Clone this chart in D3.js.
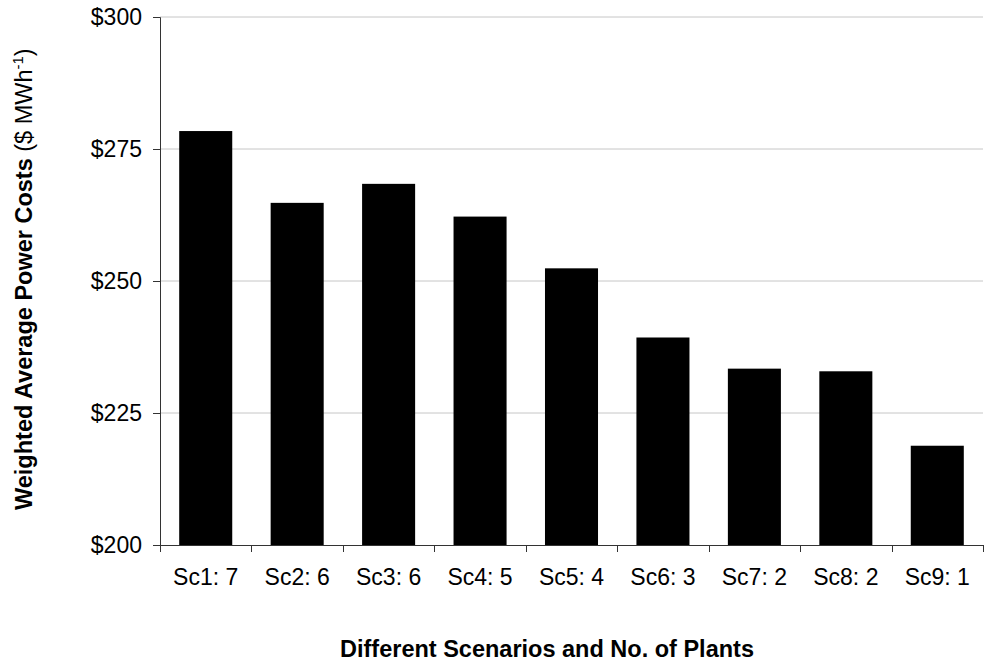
<!DOCTYPE html>
<html>
<head>
<meta charset="utf-8">
<script src="https://cdn.jsdelivr.net/npm/d3@7"></script>
<style>
  body { margin: 0; background: #fff; }
  svg text { font-family: "Liberation Sans", Arial, sans-serif; fill: #000; }
</style>
</head>
<body>
<div id="chart"></div>
<script>
// scenario labels and weighted average cost per scenario ($/MWh)
var scenarios = ["Sc1: 7", "Sc2: 6", "Sc3: 6", "Sc4: 5", "Sc5: 4", "Sc6: 3", "Sc7: 2", "Sc8: 2", "Sc9: 1"];
var costs = [278.4, 264.8, 268.4, 262.2, 252.4, 239.3, 233.4, 232.9, 218.8];
var yTicks = [200, 225, 250, 275, 300];

var width = 984, height = 666;
var margin = {left: 160, right: 1, top: 17, bottom: 121};

var svg = d3.select("#chart")
  .append("svg")
    .attr("width", width)
    .attr("height", height);

var x = d3.scaleBand()
    .domain(scenarios)
    .range([margin.left, width - margin.right])
    .paddingInner(0.42)
    .paddingOuter(0.21);

var y = d3.scaleLinear()
    .domain([200, 300])
    .range([height - margin.bottom, margin.top]);

// gridlines
svg.append("g")
  .selectAll("line")
  .data(yTicks.slice(1))
  .enter()
  .append("line")
    .attr("x1", margin.left)
    .attr("x2", width - margin.right)
    .attr("y1", function(d) { return y(d); })
    .attr("y2", function(d) { return y(d); })
    .style("stroke", "#c6c6c6")
    .style("stroke-width", 1);

// bars
svg.append("g")
  .selectAll("rect")
  .data(costs)
  .enter()
  .append("rect")
    .attr("x", function(d, i) { return x(scenarios[i]); })
    .attr("width", x.bandwidth())
    .attr("y", function(d) { return y(d); })
    .attr("height", function(d) { return y(200) - y(d); })
    .style("fill", "#000");

// y axis
var yAxis = svg.append("g")
    .attr("transform", "translate(" + margin.left + ",0)")
    .call(d3.axisLeft(y)
        .tickValues(yTicks)
        .tickSize(7)
        .tickPadding(11)
        .tickFormat(function(d) { return "$" + d; }));
yAxis.select(".domain").style("stroke", "#333");
yAxis.selectAll(".tick line").style("stroke", "#333");
yAxis.selectAll("text")
    .style("font-size", "23px")
    .style("font-family", "'Liberation Sans', Arial, sans-serif");

// x axis: labels from band scale, ticks at band boundaries
var xAxis = svg.append("g")
    .attr("transform", "translate(0," + y(200) + ")")
    .call(d3.axisBottom(x).tickSize(0).tickPadding(23.5));
xAxis.select(".domain").remove();
xAxis.selectAll("text")
    .style("font-size", "23px")
    .style("font-family", "'Liberation Sans', Arial, sans-serif");

var step = x.step();
var edges = scenarios.map(function(s) { return x(s) - step * x.paddingInner() / 2; });
edges.push(width - margin.right);

svg.append("line")
    .attr("x1", margin.left - 7)
    .attr("x2", width - margin.right)
    .attr("y1", y(200) + 0.5)
    .attr("y2", y(200) + 0.5)
    .style("stroke", "#333");

svg.append("g")
  .selectAll("line")
  .data(edges)
  .enter()
  .append("line")
    .attr("x1", function(d) { return Math.round(d) + 0.5; })
    .attr("x2", function(d) { return Math.round(d) + 0.5; })
    .attr("y1", y(200))
    .attr("y2", y(200) + 7)
    .style("stroke", "#333");

// axis titles
svg.append("text")
    .attr("x", 547)
    .attr("y", 657)
    .attr("text-anchor", "middle")
    .style("font-size", "23.5px")
    .style("font-weight", "bold")
    .text("Different Scenarios and No. of Plants");

var yTitle = svg.append("text")
    .attr("transform", "translate(32,510) rotate(-90)")
    .attr("text-anchor", "start")
    .style("font-size", "23.5px");
yTitle.append("tspan").style("font-weight", "bold").text("Weighted Average Power Costs");
yTitle.append("tspan").text(" ($ MWh");
yTitle.append("tspan").attr("dy", -9).style("font-size", "15px").text("-1");
yTitle.append("tspan").attr("dy", 9).text(")");
</script>
</body>
</html>
